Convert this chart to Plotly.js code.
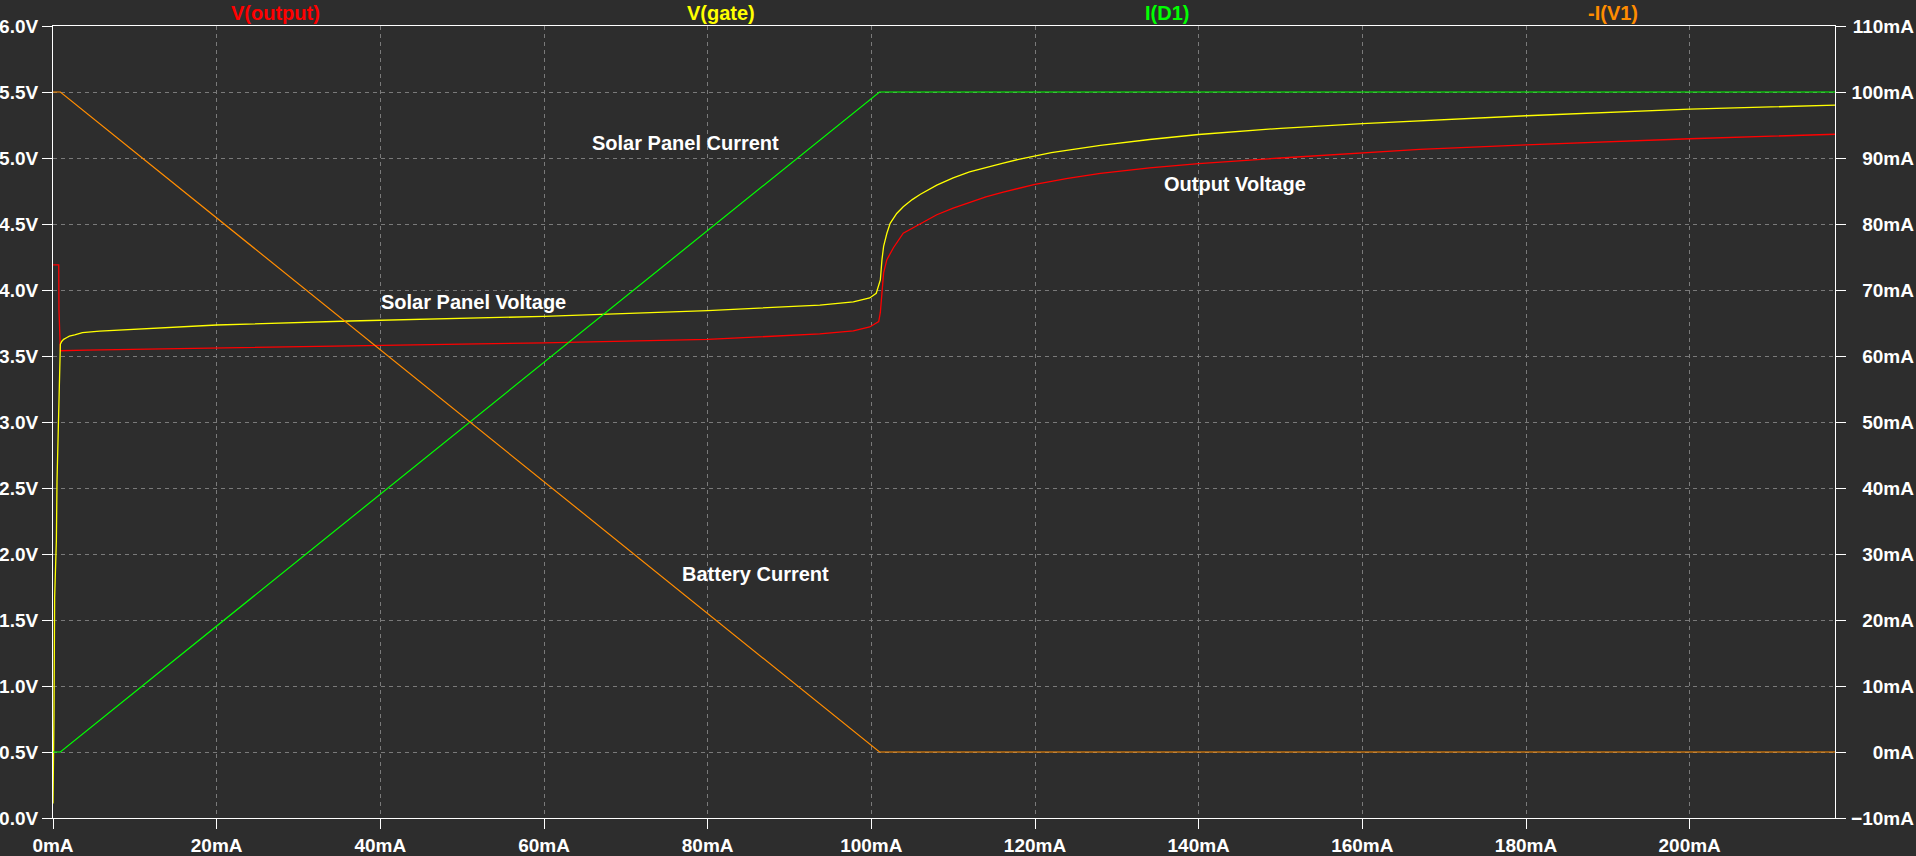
<!DOCTYPE html>
<html>
<head>
<meta charset="utf-8">
<script src="https://cdn.plot.ly/plotly-3.0.1.min.js"></script>
<style>
html,body{margin:0;padding:0;background:#2d2d2d;}
#chart{width:1916px;height:856px;}
</style>
</head>
<body>
<div id="chart"></div>
<script>
// Sweep values (mA) and traces
var xOut = [0, 0.7, 0.73, 0.9, 4, 10, 20, 36.3, 60, 80, 93.7, 97.8, 99.8, 100.9, 101.1, 101.3, 101.5, 101.9, 102.7, 103.9, 106, 108, 110, 112, 114, 116, 118, 120, 124, 128, 134, 140, 150, 160, 167, 180, 200, 217.8];
var vOut = [4.19, 4.19, 3.85, 3.54, 3.545, 3.55, 3.56, 3.576, 3.60, 3.626, 3.667, 3.69, 3.72, 3.76, 3.83, 3.98, 4.13, 4.23, 4.32, 4.43, 4.505, 4.57, 4.62, 4.665, 4.705, 4.74, 4.77, 4.80, 4.845, 4.884, 4.925, 4.958, 5.00, 5.04, 5.066, 5.10, 5.146, 5.18];

var xGate = [0, 0.05, 0.12, 0.2, 0.41, 0.49, 0.65, 0.82, 0.9, 1.06, 1.3, 1.7, 2, 2.65, 3.6, 5.7, 8.2, 10.6, 20, 36.3, 60, 80, 93.7, 97.8, 99.8, 100.6, 101.1, 101.3, 101.5, 101.9, 102.3, 103.1, 103.9, 105, 106, 108, 110, 112, 114, 116, 118, 122, 128, 134, 140, 150, 160, 167, 180, 200, 217.8];
var vGate = [0.11, 0.34, 0.78, 1.67, 2.1, 2.55, 3.0, 3.375, 3.59, 3.61, 3.626, 3.64, 3.65, 3.66, 3.677, 3.689, 3.697, 3.71, 3.735, 3.765, 3.80, 3.843, 3.886, 3.91, 3.94, 3.975, 4.076, 4.23, 4.33, 4.43, 4.505, 4.58, 4.63, 4.685, 4.725, 4.795, 4.85, 4.895, 4.93, 4.96, 4.99, 5.04, 5.095, 5.14, 5.178, 5.225, 5.26, 5.28, 5.32, 5.37, 5.40];

var xD1 = [0, 0.9, 101, 217.8];
var iD1 = [0, 0, 100, 100];

var xV1 = [0, 0.9, 101, 217.8];
var iV1 = [100, 100, 0, 0];

var traceNames = ['V(output)', 'V(gate)', 'I(D1)', '-I(V1)'];
var traceColors = ['#ff0000', '#ffff00', '#00ff00', '#ff8c00'];

var noteTexts = ['Solar Panel Current', 'Solar Panel Voltage', 'Output Voltage', 'Battery Current'];
var noteX = [77.35, 51.4, 144.4, 85.8];
var noteY = [5.11, 3.91, 4.80, 1.85];

var FONT = 'Liberation Sans, Arial, sans-serif';
var GRID = '#7a7a7a';

var traces = [
  {x: xOut, y: vOut, name: traceNames[0], mode: 'lines', line: {color: traceColors[0], width: 1.3}, yaxis: 'y'},
  {x: xGate, y: vGate, name: traceNames[1], mode: 'lines', line: {color: traceColors[1], width: 1.3}, yaxis: 'y'},
  {x: xD1, y: iD1, name: traceNames[2], mode: 'lines', line: {color: traceColors[2], width: 1.2}, yaxis: 'y2'},
  {x: xV1, y: iV1, name: traceNames[3], mode: 'lines', line: {color: traceColors[3], width: 1.2}, yaxis: 'y2'}
];

var annotations = [];
for (var i = 0; i < traceNames.length; i++) {
  annotations.push({
    text: traceNames[i], xref: 'paper', yref: 'paper',
    x: (0.125 + 0.25 * i) * 0.9567, y: 1 + 12.5 / 792, xanchor: 'center', yanchor: 'middle',
    showarrow: false, font: {family: FONT, size: 20, color: traceColors[i], weight: 'bold'}
  });
}
for (var j = 0; j < noteTexts.length; j++) {
  annotations.push({
    text: noteTexts[j], xref: 'x', yref: 'y', x: noteX[j], y: noteY[j],
    xanchor: 'center', yanchor: 'middle', showarrow: false,
    font: {family: FONT, size: 20, color: '#ffffff', weight: 'bold'}
  });
}

var tickFont = {family: FONT, size: 19, color: '#ffffff', weight: 'bold'};

var layout = {
  width: 1916, height: 856,
  paper_bgcolor: '#2d2d2d', plot_bgcolor: '#2d2d2d',
  margin: {l: 53, r: 0, t: 26, b: 38, pad: 0},
  showlegend: false,
  xaxis: {
    domain: [0, 0.9567],
    range: [0, 217.8], dtick: 20, tick0: 0, ticksuffix: 'mA',
    showline: true, linecolor: '#ffffff', linewidth: 1, mirror: true,
    ticks: 'outside', ticklen: 10, tickcolor: '#ffffff', tickwidth: 1,
    showgrid: true, gridcolor: GRID, griddash: '4px,4px', gridwidth: 1,
    zeroline: false, tickfont: tickFont, fixedrange: true
  },
  yaxis: {
    range: [0, 6], dtick: 0.5, tick0: 0, tickformat: '.1f', ticksuffix: 'V',
    showline: true, linecolor: '#ffffff', linewidth: 1, mirror: 'ticks',
    ticks: 'outside', ticklen: 10, tickcolor: '#ffffff', tickwidth: 1,
    showgrid: true, gridcolor: GRID, griddash: '4px,4px', gridwidth: 1,
    zeroline: false, tickfont: tickFont, fixedrange: true
  },
  yaxis2: {
    overlaying: 'y', anchor: 'free', position: 0.9989, side: 'left',
    range: [-10, 110], dtick: 10, tick0: 0, ticksuffix: 'mA',
    showline: false, ticks: '', showgrid: false, zeroline: false,
    tickfont: tickFont, fixedrange: true
  },
  annotations: annotations
};

Plotly.newPlot('chart', traces, layout, {staticPlot: true, displayModeBar: false});
</script>
</body>
</html>
